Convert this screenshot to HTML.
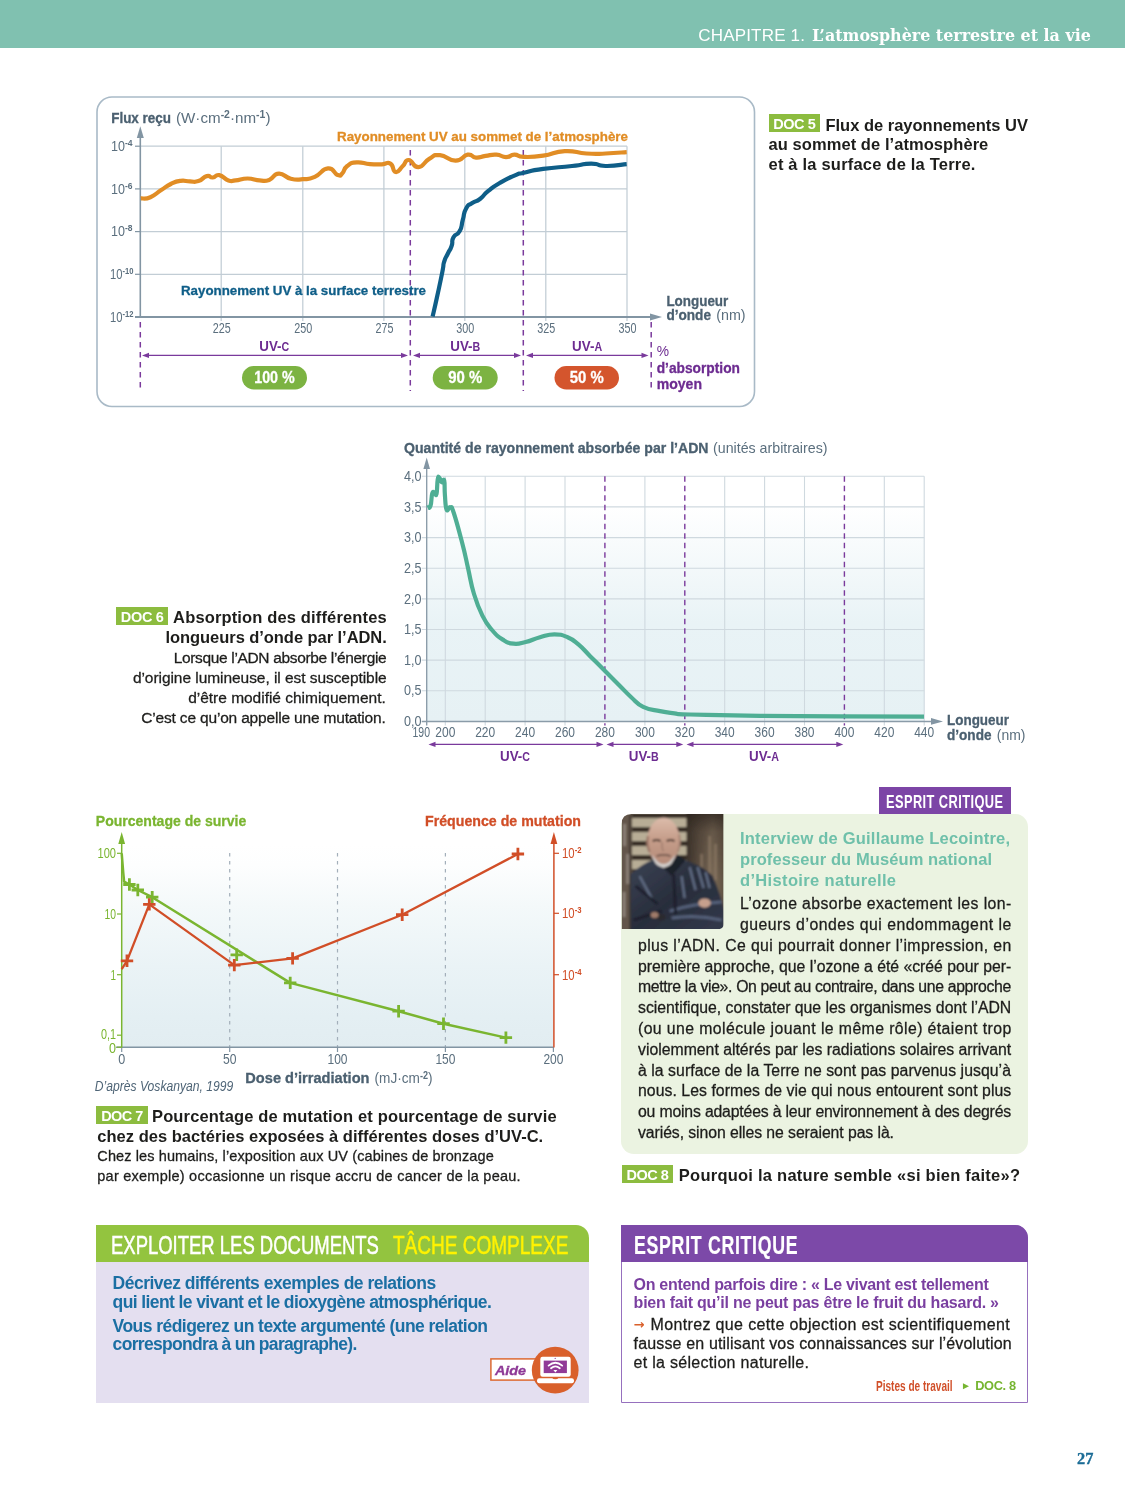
<!DOCTYPE html>
<html lang="fr"><head><meta charset="utf-8"><title>Chapitre 1 – L’atmosphère terrestre et la vie</title>
<style>
html,body{margin:0;padding:0;background:#fff}
#page{position:relative;width:1125px;height:1500px;overflow:hidden;background:#fff;font-family:"Liberation Sans",sans-serif}
.t{position:absolute;white-space:nowrap;margin:0;padding:0}
.badge{position:absolute;background:#8cbc3f}
#gfx{position:absolute;left:0;top:0}
#gfx text{font-family:"Liberation Sans",sans-serif}
.box{position:absolute}
</style></head><body><div id="page">
<div class="box" style="left:0;top:0;width:1125px;height:47.8px;background:#80c1b0"></div>
<div class="t" style="left:698.2px;top:26.6px;font-size:17px;line-height:17px;color:#fff;letter-spacing:0.194px;">CHAPITRE 1.</div>
<div class="t" style="left:811.6px;top:27.2px;font-size:17px;line-height:17px;color:#fff;font-weight:bold;font-family:'DejaVu Serif', serif;transform-origin:0 0;transform:scaleX(0.9360);">L’atmosphère terrestre et la vie</div>
<div class="box" style="left:620.8px;top:814px;width:407.2px;height:340px;background:#ebf3e1;border-radius:13px"></div>
<div class="box" style="left:878.8px;top:787.2px;width:132.4px;height:26.8px;background:#7c45a6"></div>
<div class="box" style="left:96.2px;top:1224.6px;width:492.6px;height:37.9px;background:#93c43f;border-top-right-radius:13px"></div>
<div class="box" style="left:96.2px;top:1262.4px;width:492.6px;height:140.8px;background:#e4dff0"></div>
<div class="box" style="left:621.4px;top:1224.6px;width:407px;height:178.8px;box-sizing:border-box;border:1.7px solid #9670be;border-top-right-radius:13px;background:#fff"></div>
<div class="box" style="left:621.4px;top:1224.6px;width:407px;height:37.9px;background:#7c49a8;border-top-right-radius:13px"></div>
<svg id="gfx" width="1125" height="1500" viewBox="0 0 1125 1500">
<rect x="97" y="97" width="657.5" height="309.5" rx="15" ry="15" fill="#fff" stroke="#a9bac7" stroke-width="1.6"/>
<line x1="140" y1="146.2" x2="627" y2="146.2" stroke="#c2cdd5" stroke-width="1.25"/>
<line x1="140" y1="188.9" x2="627" y2="188.9" stroke="#c2cdd5" stroke-width="1.25"/>
<line x1="140" y1="231.6" x2="627" y2="231.6" stroke="#c2cdd5" stroke-width="1.25"/>
<line x1="140" y1="274.3" x2="627" y2="274.3" stroke="#c2cdd5" stroke-width="1.25"/>
<line x1="221.2" y1="146.2" x2="221.2" y2="321" stroke="#c2cdd5" stroke-width="1.25"/>
<line x1="302.8" y1="146.2" x2="302.8" y2="321" stroke="#c2cdd5" stroke-width="1.25"/>
<line x1="383.9" y1="146.2" x2="383.9" y2="321" stroke="#c2cdd5" stroke-width="1.25"/>
<line x1="464.8" y1="146.2" x2="464.8" y2="321" stroke="#c2cdd5" stroke-width="1.25"/>
<line x1="545.8" y1="146.2" x2="545.8" y2="321" stroke="#c2cdd5" stroke-width="1.25"/>
<line x1="627.0" y1="146.2" x2="627.0" y2="321" stroke="#c2cdd5" stroke-width="1.25"/>
<line x1="140.3" y1="136" x2="140.3" y2="317" stroke="#8295a3" stroke-width="1.6"/>
<polygon points="140.3,126.3 136.8,138 143.8,138" fill="#8295a3"/>
<line x1="135" y1="317" x2="652" y2="317" stroke="#8295a3" stroke-width="1.8"/>
<polygon points="662,317 650,313.4 650,320.6" fill="#8295a3"/>
<line x1="135" y1="146.2" x2="140" y2="146.2" stroke="#8295a3" stroke-width="1.2"/>
<line x1="135" y1="188.9" x2="140" y2="188.9" stroke="#8295a3" stroke-width="1.2"/>
<line x1="135" y1="231.6" x2="140" y2="231.6" stroke="#8295a3" stroke-width="1.2"/>
<line x1="135" y1="274.3" x2="140" y2="274.3" stroke="#8295a3" stroke-width="1.2"/>
<line x1="140.3" y1="322" x2="140.3" y2="391" stroke="#7a3a9c" stroke-width="1.5" stroke-dasharray="5.5,4.5"/>
<line x1="410.3" y1="150" x2="410.3" y2="391" stroke="#7a3a9c" stroke-width="1.5" stroke-dasharray="5.5,4.5"/>
<line x1="523.3" y1="150" x2="523.3" y2="391" stroke="#7a3a9c" stroke-width="1.5" stroke-dasharray="5.5,4.5"/>
<line x1="651.2" y1="322" x2="651.2" y2="391" stroke="#7a3a9c" stroke-width="1.5" stroke-dasharray="5.5,4.5"/>
<path d="M140.8,198.4C143.5,198.1 144.6,199.6 150.4,197.2C156.2,194.8 155.4,193.7 161.2,190.0C167.0,186.3 165.4,186.6 170.8,184.0C176.2,181.4 175.0,181.6 180.4,180.9C185.8,180.2 184.9,181.3 190.0,181.4C195.1,181.5 193.6,182.6 198.4,181.1C203.2,179.6 202.7,177.1 206.8,176.1C210.9,175.1 209.3,177.8 212.8,177.5C216.3,177.2 214.9,174.3 219.3,175.1C223.7,175.9 223.8,178.9 228.4,180.4C233.0,181.9 230.2,180.9 235.6,180.4C241.0,179.9 240.8,178.5 247.6,178.5C254.4,178.5 253.5,180.0 259.6,180.4C265.7,180.8 263.8,181.8 269.2,179.9C274.6,178.0 272.7,174.0 278.8,173.7C284.9,173.4 284.0,177.1 290.8,178.7C297.6,180.3 296.0,179.7 302.8,179.2C309.6,178.7 307.7,179.9 314.8,176.8C321.9,173.7 321.5,168.9 328.0,168.4C334.5,167.9 333.5,173.5 337.6,174.9C341.7,176.3 339.7,175.7 342.4,173.2C345.1,170.7 343.1,169.1 347.2,166.0C351.3,162.9 350.3,162.9 356.8,162.4C363.3,161.9 362.9,163.6 370.0,164.1C377.1,164.6 376.2,164.4 382.0,164.3C387.8,164.2 386.5,161.4 390.4,163.6C394.3,165.8 392.1,171.3 395.6,172.0C399.1,172.7 399.1,169.4 402.8,166.0C406.5,162.6 404.4,159.7 408.8,160.0C413.2,160.3 412.6,167.5 418.4,167.2C424.2,166.9 423.1,162.2 429.2,158.8C435.3,155.4 432.5,154.7 440.0,155.2C447.5,155.7 447.8,160.8 455.6,160.7C463.4,160.6 461.8,155.6 467.6,154.7C473.4,153.8 470.9,157.3 476.0,157.6C481.1,157.9 479.8,156.7 485.6,155.9C491.4,155.1 490.6,154.4 496.4,154.7C502.2,155.0 500.9,157.1 506.0,157.1C511.1,157.1 509.3,154.8 514.4,154.7C519.5,154.6 515.8,156.6 524.0,156.9C532.2,157.2 531.6,157.3 543.2,155.7C554.8,154.1 552.6,151.7 564.8,151.1C577.0,150.5 574.8,152.8 586.4,153.5C598.0,154.2 594.2,153.9 605.6,153.5C617.0,153.1 620.7,152.5 626.7,152.1" fill="none" stroke="#e18d25" stroke-width="4.2" stroke-linejoin="round"/>
<path d="M432.6,316.5C434.2,309.6 434.1,310.6 437.3,295.8C440.5,281.0 440.0,283.5 442.3,272.1C444.6,260.7 442.3,267.8 444.2,261.6C446.1,255.4 445.4,258.7 447.9,253.5C450.4,248.3 449.7,251.4 451.6,246.0C453.5,240.6 450.8,242.3 453.5,237.3C456.2,232.3 456.6,236.9 459.7,231.1C462.8,225.3 460.7,227.4 462.8,219.9C464.9,212.4 462.9,214.3 466.0,208.7C469.1,203.1 467.4,206.4 472.2,203.1C477.0,199.8 475.0,202.7 480.3,198.7C485.6,194.7 481.4,196.5 488.0,191.2C494.6,185.9 491.2,188.0 500.0,182.8C508.8,177.6 506.4,179.0 514.4,175.6C522.4,172.2 514.4,174.9 524.0,172.7C533.6,170.5 527.2,171.1 543.2,168.9C559.2,166.7 556.0,167.8 572.0,166.0C588.0,164.2 580.0,163.6 591.2,163.6C602.4,163.6 593.8,165.8 605.6,166.0C617.4,166.2 619.7,164.7 626.7,164.1" fill="none" stroke="#0f5e88" stroke-width="4.2" stroke-linejoin="round"/>
<text x="111.2" y="122.6" font-size="14.5" fill="#4b6070" font-weight="bold" stroke="#4b6070" stroke-width="0.3" textLength="59.8" lengthAdjust="spacingAndGlyphs">Flux reçu</text>
<text x="176" y="122.6" font-size="14.5" fill="#5b6f7e" textLength="94.5" lengthAdjust="spacingAndGlyphs">(W·cm<tspan dy="-4.5" font-size="10" font-weight="bold">-2</tspan><tspan dy="4.5">·nm</tspan><tspan dy="-4.5" font-size="10" font-weight="bold">-1</tspan><tspan dy="4.5">)</tspan></text>
<text x="111" y="151.0" font-size="14" fill="#5b6f7e" textLength="21.5" lengthAdjust="spacingAndGlyphs">10<tspan dy="-5" font-size="9.5" font-weight="bold">-4</tspan></text>
<text x="111" y="193.7" font-size="14" fill="#5b6f7e" textLength="21.5" lengthAdjust="spacingAndGlyphs">10<tspan dy="-5" font-size="9.5" font-weight="bold">-6</tspan></text>
<text x="111" y="236.4" font-size="14" fill="#5b6f7e" textLength="21.5" lengthAdjust="spacingAndGlyphs">10<tspan dy="-5" font-size="9.5" font-weight="bold">-8</tspan></text>
<text x="110" y="279.1" font-size="14" fill="#5b6f7e" textLength="23.5" lengthAdjust="spacingAndGlyphs">10<tspan dy="-5" font-size="9.5" font-weight="bold">-10</tspan></text>
<text x="110" y="321.8" font-size="14" fill="#5b6f7e" textLength="23.5" lengthAdjust="spacingAndGlyphs">10<tspan dy="-5" font-size="9.5" font-weight="bold">-12</tspan></text>
<text x="212.7" y="333.3" font-size="13.8" fill="#5b6f7e" textLength="18.0" lengthAdjust="spacingAndGlyphs">225</text>
<text x="294.3" y="333.3" font-size="13.8" fill="#5b6f7e" textLength="18.0" lengthAdjust="spacingAndGlyphs">250</text>
<text x="375.4" y="333.3" font-size="13.8" fill="#5b6f7e" textLength="18.0" lengthAdjust="spacingAndGlyphs">275</text>
<text x="456.3" y="333.3" font-size="13.8" fill="#5b6f7e" textLength="18.0" lengthAdjust="spacingAndGlyphs">300</text>
<text x="537.3" y="333.3" font-size="13.8" fill="#5b6f7e" textLength="18.0" lengthAdjust="spacingAndGlyphs">325</text>
<text x="618.5" y="333.3" font-size="13.8" fill="#5b6f7e" textLength="18.0" lengthAdjust="spacingAndGlyphs">350</text>
<text x="337.0" y="141.2" font-size="13" fill="#e18d25" font-weight="bold" stroke="#e18d25" stroke-width="0.3" textLength="291.0" lengthAdjust="spacingAndGlyphs">Rayonnement UV au sommet de l’atmosphère</text>
<text x="181.0" y="295.0" font-size="13" fill="#0f5e88" font-weight="bold" stroke="#0f5e88" stroke-width="0.3" textLength="245.0" lengthAdjust="spacingAndGlyphs">Rayonnement UV à la surface terrestre</text>
<text x="259.3" y="350.8" font-size="15" font-weight="bold" fill="#6d2c91" textLength="30" lengthAdjust="spacingAndGlyphs">UV-<tspan font-size="12">C</tspan></text>
<text x="450.3" y="350.8" font-size="15" font-weight="bold" fill="#6d2c91" textLength="30" lengthAdjust="spacingAndGlyphs">UV-<tspan font-size="12">B</tspan></text>
<text x="572.1" y="350.8" font-size="15" font-weight="bold" fill="#6d2c91" textLength="30" lengthAdjust="spacingAndGlyphs">UV-<tspan font-size="12">A</tspan></text>
<line x1="148.0" y1="355.4" x2="402.0" y2="355.4" stroke="#7a3a9c" stroke-width="1.1"/><polygon points="408.0,355.4 401.0,352.8 401.0,358.0" fill="#7a3a9c"/><polygon points="142.0,355.4 149.0,352.8 149.0,358.0" fill="#7a3a9c"/>
<line x1="419.0" y1="355.4" x2="515.0" y2="355.4" stroke="#7a3a9c" stroke-width="1.1"/><polygon points="521.0,355.4 514.0,352.8 514.0,358.0" fill="#7a3a9c"/><polygon points="413.0,355.4 420.0,352.8 420.0,358.0" fill="#7a3a9c"/>
<line x1="532.0" y1="355.4" x2="642.5" y2="355.4" stroke="#7a3a9c" stroke-width="1.1"/><polygon points="648.5,355.4 641.5,352.8 641.5,358.0" fill="#7a3a9c"/><polygon points="526.0,355.4 533.0,352.8 533.0,358.0" fill="#7a3a9c"/>
<rect x="242" y="366" width="65" height="23.5" rx="11.75" fill="#7cb342"/>
<text x="254.2" y="383.4" font-size="16" fill="#fff" font-weight="bold" stroke="#fff" stroke-width="0.3" textLength="40.5" lengthAdjust="spacingAndGlyphs">100 %</text>
<rect x="432.7" y="366" width="65.0" height="23.5" rx="11.75" fill="#7cb342"/>
<text x="448.2" y="383.4" font-size="16" fill="#fff" font-weight="bold" stroke="#fff" stroke-width="0.3" textLength="34.0" lengthAdjust="spacingAndGlyphs">90 %</text>
<rect x="554.5" y="366" width="64.5" height="23.5" rx="11.75" fill="#d4552d"/>
<text x="569.8" y="383.4" font-size="16" fill="#fff" font-weight="bold" stroke="#fff" stroke-width="0.3" textLength="34.0" lengthAdjust="spacingAndGlyphs">50 %</text>
<text x="666.4" y="305.7" font-size="14.5" fill="#4b6070" font-weight="bold" stroke="#4b6070" stroke-width="0.3" textLength="61.9" lengthAdjust="spacingAndGlyphs">Longueur</text>
<text x="666.4" y="320.4" font-size="14.5" fill="#4b6070" font-weight="bold" stroke="#4b6070" stroke-width="0.3" textLength="44.6" lengthAdjust="spacingAndGlyphs">d’onde</text>
<text x="716.2" y="320.4" font-size="14.5" fill="#5b6f7e" textLength="29.4" lengthAdjust="spacingAndGlyphs">(nm)</text>
<text x="656.7" y="356.2" font-size="14" fill="#6d2c91" textLength="12.3" lengthAdjust="spacingAndGlyphs">%</text>
<text x="656.7" y="372.7" font-size="14.5" fill="#6d2c91" font-weight="bold" stroke="#6d2c91" stroke-width="0.3" textLength="83.3" lengthAdjust="spacingAndGlyphs">d’absorption</text>
<text x="656.7" y="388.8" font-size="14.5" fill="#6d2c91" font-weight="bold" stroke="#6d2c91" stroke-width="0.3" textLength="45.3" lengthAdjust="spacingAndGlyphs">moyen</text>
<defs><linearGradient id="g2" x1="0" y1="0" x2="0" y2="1"><stop offset="0" stop-color="#fff"/><stop offset="0.12" stop-color="#fff"/><stop offset="0.6" stop-color="#e9f3f6"/><stop offset="1" stop-color="#e6f1f4"/></linearGradient></defs>
<rect x="426.7" y="476.3" width="497.5" height="245.1" fill="url(#g2)"/>
<line x1="421.7" y1="476.3" x2="924.2" y2="476.3" stroke="#cfd9df" stroke-width="1.1"/>
<line x1="421.7" y1="506.9" x2="924.2" y2="506.9" stroke="#cfd9df" stroke-width="1.1"/>
<line x1="421.7" y1="537.6" x2="924.2" y2="537.6" stroke="#cfd9df" stroke-width="1.1"/>
<line x1="421.7" y1="568.2" x2="924.2" y2="568.2" stroke="#cfd9df" stroke-width="1.1"/>
<line x1="421.7" y1="598.9" x2="924.2" y2="598.9" stroke="#cfd9df" stroke-width="1.1"/>
<line x1="421.7" y1="629.5" x2="924.2" y2="629.5" stroke="#cfd9df" stroke-width="1.1"/>
<line x1="421.7" y1="660.1" x2="924.2" y2="660.1" stroke="#cfd9df" stroke-width="1.1"/>
<line x1="421.7" y1="690.8" x2="924.2" y2="690.8" stroke="#cfd9df" stroke-width="1.1"/>
<line x1="445.3" y1="476.3" x2="445.3" y2="725.4" stroke="#cfd9df" stroke-width="1.1"/>
<line x1="485.2" y1="476.3" x2="485.2" y2="725.4" stroke="#cfd9df" stroke-width="1.1"/>
<line x1="525.1" y1="476.3" x2="525.1" y2="725.4" stroke="#cfd9df" stroke-width="1.1"/>
<line x1="565.0" y1="476.3" x2="565.0" y2="725.4" stroke="#cfd9df" stroke-width="1.1"/>
<line x1="644.9" y1="476.3" x2="644.9" y2="725.4" stroke="#cfd9df" stroke-width="1.1"/>
<line x1="724.7" y1="476.3" x2="724.7" y2="725.4" stroke="#cfd9df" stroke-width="1.1"/>
<line x1="764.6" y1="476.3" x2="764.6" y2="725.4" stroke="#cfd9df" stroke-width="1.1"/>
<line x1="804.5" y1="476.3" x2="804.5" y2="725.4" stroke="#cfd9df" stroke-width="1.1"/>
<line x1="884.3" y1="476.3" x2="884.3" y2="725.4" stroke="#cfd9df" stroke-width="1.1"/>
<line x1="924.2" y1="476.3" x2="924.2" y2="725.4" stroke="#cfd9df" stroke-width="1.1"/>
<line x1="604.9" y1="476.3" x2="604.9" y2="725.4" stroke="#7a3a9c" stroke-width="1.4" stroke-dasharray="5.5,4"/>
<line x1="684.8" y1="476.3" x2="684.8" y2="725.4" stroke="#7a3a9c" stroke-width="1.4" stroke-dasharray="5.5,4"/>
<line x1="844.4" y1="476.3" x2="844.4" y2="725.4" stroke="#7a3a9c" stroke-width="1.4" stroke-dasharray="5.5,4"/>
<line x1="426.7" y1="468" x2="426.7" y2="725.4" stroke="#8a9ba8" stroke-width="1.35"/>
<polygon points="426.7,457.6 423.4,469 430.0,469" fill="#8295a3"/>
<line x1="421.7" y1="721.4" x2="933" y2="721.4" stroke="#8a9ba8" stroke-width="1.45"/>
<polygon points="943,721.4 931,718.0 931,724.8" fill="#8295a3"/>
<path d="M427.4,507.5C428.2,507.1 429.3,509.3 430.5,505.8C431.7,502.3 431.2,496.9 432.2,493.6C433.2,490.4 433.5,492.7 434.6,492.8C435.7,492.9 435.7,497.3 436.5,494.0C437.3,490.7 437.0,483.6 437.7,479.5C438.4,475.4 438.4,476.9 439.4,477.6C440.4,478.3 440.6,481.6 441.8,482.3C443.0,483.1 443.4,477.4 444.2,480.6C445.0,483.8 444.3,487.8 444.9,495.0C445.5,502.2 445.3,506.6 446.6,509.6C447.9,512.6 448.4,506.4 450.2,507.2C452.0,508.0 450.8,504.1 453.8,513.0C456.8,522.0 458.6,529.2 462.2,543.0C465.8,556.8 465.1,555.2 468.0,568.0C470.9,580.8 470.4,582.1 474.0,594.0C477.6,605.9 477.9,606.6 482.4,615.6C486.9,624.6 486.9,624.0 492.0,630.0C497.1,636.0 497.4,636.2 502.8,639.6C508.2,643.0 507.9,643.1 513.6,643.7C519.3,644.3 519.0,643.6 525.6,642.0C532.2,640.4 532.8,639.1 540.0,637.2C547.2,635.3 547.5,634.3 554.4,634.3C561.3,634.3 561.6,634.7 567.6,637.2C573.6,639.7 572.7,639.6 578.4,644.4C584.1,649.2 583.8,649.8 590.4,656.4C597.0,663.0 597.6,663.6 604.8,670.8C612.0,678.0 612.6,678.6 619.2,685.2C625.8,691.8 625.2,691.8 631.2,697.2C637.2,702.6 636.0,703.3 643.2,706.8C650.4,710.3 652.2,709.5 660.0,711.1C667.8,712.7 666.9,712.4 674.4,713.3C681.9,714.1 668.6,713.9 690.0,714.5C711.4,715.1 722.5,715.3 760.0,715.8C797.5,716.2 799.0,716.1 840.0,716.3C881.0,716.5 903.0,716.5 924.0,716.6" fill="none" stroke="#4fae94" stroke-width="4.2" stroke-linejoin="round"/>
<text x="404.0" y="453.4" font-size="14.2" fill="#4b6070" font-weight="bold" stroke="#4b6070" stroke-width="0.3" textLength="304.5" lengthAdjust="spacingAndGlyphs">Quantité de rayonnement absorbée par l’ADN</text>
<text x="713.0" y="453.4" font-size="14.2" fill="#5b6f7e" textLength="114.5" lengthAdjust="spacingAndGlyphs">(unités arbitraires)</text>
<text x="404.0" y="480.9" font-size="14" fill="#5b6f7e" textLength="17.5" lengthAdjust="spacingAndGlyphs">4,0</text>
<text x="404.0" y="511.5" font-size="14" fill="#5b6f7e" textLength="17.5" lengthAdjust="spacingAndGlyphs">3,5</text>
<text x="404.0" y="542.2" font-size="14" fill="#5b6f7e" textLength="17.5" lengthAdjust="spacingAndGlyphs">3,0</text>
<text x="404.0" y="572.8" font-size="14" fill="#5b6f7e" textLength="17.5" lengthAdjust="spacingAndGlyphs">2,5</text>
<text x="404.0" y="603.5" font-size="14" fill="#5b6f7e" textLength="17.5" lengthAdjust="spacingAndGlyphs">2,0</text>
<text x="404.0" y="634.1" font-size="14" fill="#5b6f7e" textLength="17.5" lengthAdjust="spacingAndGlyphs">1,5</text>
<text x="404.0" y="664.7" font-size="14" fill="#5b6f7e" textLength="17.5" lengthAdjust="spacingAndGlyphs">1,0</text>
<text x="404.0" y="695.4" font-size="14" fill="#5b6f7e" textLength="17.5" lengthAdjust="spacingAndGlyphs">0,5</text>
<text x="404.0" y="726.0" font-size="14" fill="#5b6f7e" textLength="17.5" lengthAdjust="spacingAndGlyphs">0,0</text>
<text x="435.3" y="736.8" font-size="14" fill="#5b6f7e" textLength="20.0" lengthAdjust="spacingAndGlyphs">200</text>
<text x="475.2" y="736.8" font-size="14" fill="#5b6f7e" textLength="20.0" lengthAdjust="spacingAndGlyphs">220</text>
<text x="515.1" y="736.8" font-size="14" fill="#5b6f7e" textLength="20.0" lengthAdjust="spacingAndGlyphs">240</text>
<text x="555.0" y="736.8" font-size="14" fill="#5b6f7e" textLength="20.0" lengthAdjust="spacingAndGlyphs">260</text>
<text x="594.9" y="736.8" font-size="14" fill="#5b6f7e" textLength="20.0" lengthAdjust="spacingAndGlyphs">280</text>
<text x="634.9" y="736.8" font-size="14" fill="#5b6f7e" textLength="20.0" lengthAdjust="spacingAndGlyphs">300</text>
<text x="674.8" y="736.8" font-size="14" fill="#5b6f7e" textLength="20.0" lengthAdjust="spacingAndGlyphs">320</text>
<text x="714.7" y="736.8" font-size="14" fill="#5b6f7e" textLength="20.0" lengthAdjust="spacingAndGlyphs">340</text>
<text x="754.6" y="736.8" font-size="14" fill="#5b6f7e" textLength="20.0" lengthAdjust="spacingAndGlyphs">360</text>
<text x="794.5" y="736.8" font-size="14" fill="#5b6f7e" textLength="20.0" lengthAdjust="spacingAndGlyphs">380</text>
<text x="834.4" y="736.8" font-size="14" fill="#5b6f7e" textLength="20.0" lengthAdjust="spacingAndGlyphs">400</text>
<text x="874.3" y="736.8" font-size="14" fill="#5b6f7e" textLength="20.0" lengthAdjust="spacingAndGlyphs">420</text>
<text x="914.2" y="736.8" font-size="14" fill="#5b6f7e" textLength="20.0" lengthAdjust="spacingAndGlyphs">440</text>
<text x="412.5" y="736.8" font-size="14" fill="#5b6f7e" textLength="17.5" lengthAdjust="spacingAndGlyphs">190</text>
<text x="500" y="760.6" font-size="15" font-weight="bold" fill="#6d2c91" textLength="30" lengthAdjust="spacingAndGlyphs">UV-<tspan font-size="12">C</tspan></text>
<text x="628.8" y="760.6" font-size="15" font-weight="bold" fill="#6d2c91" textLength="30" lengthAdjust="spacingAndGlyphs">UV-<tspan font-size="12">B</tspan></text>
<text x="749" y="760.6" font-size="15" font-weight="bold" fill="#6d2c91" textLength="30" lengthAdjust="spacingAndGlyphs">UV-<tspan font-size="12">A</tspan></text>
<line x1="434.5" y1="744.4" x2="597.5" y2="744.4" stroke="#7a3a9c" stroke-width="1.1"/><polygon points="603.5,744.4 596.5,741.8 596.5,747.0" fill="#7a3a9c"/><polygon points="428.5,744.4 435.5,741.8 435.5,747.0" fill="#7a3a9c"/>
<line x1="612.5" y1="744.4" x2="677.3" y2="744.4" stroke="#7a3a9c" stroke-width="1.1"/><polygon points="683.3,744.4 676.3,741.8 676.3,747.0" fill="#7a3a9c"/><polygon points="606.5,744.4 613.5,741.8 613.5,747.0" fill="#7a3a9c"/>
<line x1="692.5" y1="744.4" x2="837.3" y2="744.4" stroke="#7a3a9c" stroke-width="1.1"/><polygon points="843.3,744.4 836.3,741.8 836.3,747.0" fill="#7a3a9c"/><polygon points="686.5,744.4 693.5,741.8 693.5,747.0" fill="#7a3a9c"/>
<text x="947.0" y="725.1" font-size="14.5" fill="#4b6070" font-weight="bold" stroke="#4b6070" stroke-width="0.3" textLength="62.0" lengthAdjust="spacingAndGlyphs">Longueur</text>
<text x="947.0" y="740.0" font-size="14.5" fill="#4b6070" font-weight="bold" stroke="#4b6070" stroke-width="0.3" textLength="44.5" lengthAdjust="spacingAndGlyphs">d’onde</text>
<text x="996.8" y="740.0" font-size="14.5" fill="#5b6f7e" textLength="28.7" lengthAdjust="spacingAndGlyphs">(nm)</text>
<defs><linearGradient id="g3" x1="0" y1="0" x2="0" y2="1"><stop offset="0" stop-color="#fff"/><stop offset="0.1" stop-color="#fdfefe"/><stop offset="0.3" stop-color="#f4f9fa"/><stop offset="0.6" stop-color="#eaf3f6"/><stop offset="0.85" stop-color="#e4eff3"/><stop offset="1" stop-color="#e2edf1"/></linearGradient></defs>
<rect x="121.7" y="845" width="431.7" height="202.2" fill="url(#g3)"/>
<line x1="229.7" y1="853" x2="229.7" y2="1047" stroke="#a3afba" stroke-width="1.2" stroke-dasharray="3.5,4.5"/>
<line x1="337.5" y1="853" x2="337.5" y2="1047" stroke="#a3afba" stroke-width="1.2" stroke-dasharray="3.5,4.5"/>
<line x1="445.4" y1="853" x2="445.4" y2="1047" stroke="#a3afba" stroke-width="1.2" stroke-dasharray="3.5,4.5"/>
<line x1="116" y1="1047.2" x2="553.4" y2="1047.2" stroke="#8295a3" stroke-width="1.6"/>
<line x1="121.7" y1="1047" x2="121.7" y2="1052" stroke="#8295a3" stroke-width="1.2"/>
<line x1="229.7" y1="1047" x2="229.7" y2="1052" stroke="#8295a3" stroke-width="1.2"/>
<line x1="337.5" y1="1047" x2="337.5" y2="1052" stroke="#8295a3" stroke-width="1.2"/>
<line x1="445.4" y1="1047" x2="445.4" y2="1052" stroke="#8295a3" stroke-width="1.2"/>
<line x1="553.4" y1="1047" x2="553.4" y2="1052" stroke="#8295a3" stroke-width="1.2"/>
<line x1="121.7" y1="842" x2="121.7" y2="1047.5" stroke="#7ab530" stroke-width="1.5"/>
<polygon points="121.7,832 118.3,844 125.1,844" fill="#7ab530"/>
<line x1="117" y1="853.3" x2="121.7" y2="853.3" stroke="#7ab530" stroke-width="1.2"/>
<line x1="117" y1="914" x2="121.7" y2="914" stroke="#7ab530" stroke-width="1.2"/>
<line x1="117" y1="974.7" x2="121.7" y2="974.7" stroke="#7ab530" stroke-width="1.2"/>
<line x1="117" y1="1035.2" x2="121.7" y2="1035.2" stroke="#7ab530" stroke-width="1.2"/>
<line x1="117" y1="1047.2" x2="121.7" y2="1047.2" stroke="#7ab530" stroke-width="1.2"/>
<line x1="553.9" y1="842" x2="553.9" y2="1047.5" stroke="#d14e27" stroke-width="1.5"/>
<polygon points="553.9,832 550.5,844 557.3,844" fill="#d14e27"/>
<line x1="553.9" y1="853.3" x2="559" y2="853.3" stroke="#d14e27" stroke-width="1.2"/>
<line x1="553.9" y1="913.3" x2="559" y2="913.3" stroke="#d14e27" stroke-width="1.2"/>
<line x1="553.9" y1="974.7" x2="559" y2="974.7" stroke="#d14e27" stroke-width="1.2"/>
<polyline points="121.7,853.3 123.2,872 124.1,881.6 129.4,884.5 137.8,890 152.2,897.2 290.2,982.9 398.6,1011.2 443.5,1023.7 505.9,1037.6" fill="none" stroke="#7ab530" stroke-width="2.5" stroke-linejoin="round"/>
<path d="M123.2,884.5H135.6M129.4,878.3V890.7" stroke="#7ab530" stroke-width="2.8" fill="none"/>
<path d="M131.6,890.0H144.0M137.8,883.8V896.2" stroke="#7ab530" stroke-width="2.8" fill="none"/>
<path d="M146.0,897.2H158.4M152.2,891.0V903.4" stroke="#7ab530" stroke-width="2.8" fill="none"/>
<path d="M230.5,954.8H242.9M236.7,948.6V961.0" stroke="#7ab530" stroke-width="2.8" fill="none"/>
<path d="M284.0,982.9H296.4M290.2,976.7V989.1" stroke="#7ab530" stroke-width="2.8" fill="none"/>
<path d="M392.4,1011.2H404.8M398.6,1005.0V1017.4" stroke="#7ab530" stroke-width="2.8" fill="none"/>
<path d="M437.3,1023.7H449.7M443.5,1017.5V1029.9" stroke="#7ab530" stroke-width="2.8" fill="none"/>
<path d="M499.7,1037.6H512.1M505.9,1031.4V1043.8" stroke="#7ab530" stroke-width="2.8" fill="none"/>
<polyline points="121.7,969.2 127,960.8 149.3,904.4 234.3,965.1 292.6,958.4 402.2,914.7 517.9,854" fill="none" stroke="#d14e27" stroke-width="2.3" stroke-linejoin="round"/>
<path d="M120.8,960.8H133.2M127.0,954.6V967.0" stroke="#d14e27" stroke-width="2.8" fill="none"/>
<path d="M143.1,904.4H155.5M149.3,898.2V910.6" stroke="#d14e27" stroke-width="2.8" fill="none"/>
<path d="M228.1,965.1H240.5M234.3,958.9V971.3" stroke="#d14e27" stroke-width="2.8" fill="none"/>
<path d="M286.4,958.4H298.8M292.6,952.2V964.6" stroke="#d14e27" stroke-width="2.8" fill="none"/>
<path d="M396.0,914.7H408.4M402.2,908.5V920.9" stroke="#d14e27" stroke-width="2.8" fill="none"/>
<path d="M511.7,854.0H524.1M517.9,847.8V860.2" stroke="#d14e27" stroke-width="2.8" fill="none"/>
<text x="95.8" y="825.5" font-size="14.5" fill="#7ab530" font-weight="bold" stroke="#7ab530" stroke-width="0.3" textLength="150.5" lengthAdjust="spacingAndGlyphs">Pourcentage de survie</text>
<text x="425.0" y="825.5" font-size="14.5" fill="#d14e27" font-weight="bold" stroke="#d14e27" stroke-width="0.3" textLength="156.0" lengthAdjust="spacingAndGlyphs">Fréquence de mutation</text>
<text x="97.5" y="858.1" font-size="14" fill="#7ab530" textLength="18.5" lengthAdjust="spacingAndGlyphs">100</text>
<text x="104.5" y="918.8" font-size="14" fill="#7ab530" textLength="11.5" lengthAdjust="spacingAndGlyphs">10</text>
<text x="110.5" y="979.5" font-size="14" fill="#7ab530" textLength="5.5" lengthAdjust="spacingAndGlyphs">1</text>
<text x="101.0" y="1038.7" font-size="14" fill="#7ab530" textLength="15.0" lengthAdjust="spacingAndGlyphs">0,1</text>
<text x="109.0" y="1052.7" font-size="14" fill="#7ab530" textLength="7.0" lengthAdjust="spacingAndGlyphs">0</text>
<text x="562" y="858.1" font-size="14" fill="#d14e27" textLength="19.5" lengthAdjust="spacingAndGlyphs">10<tspan dy="-5" font-size="9.5" font-weight="bold">-2</tspan></text>
<text x="562" y="918.1" font-size="14" fill="#d14e27" textLength="19.5" lengthAdjust="spacingAndGlyphs">10<tspan dy="-5" font-size="9.5" font-weight="bold">-3</tspan></text>
<text x="562" y="979.5" font-size="14" fill="#d14e27" textLength="19.5" lengthAdjust="spacingAndGlyphs">10<tspan dy="-5" font-size="9.5" font-weight="bold">-4</tspan></text>
<text x="118.2" y="1064.2" font-size="13.8" fill="#5b6f7e" textLength="7.0" lengthAdjust="spacingAndGlyphs">0</text>
<text x="222.9" y="1064.2" font-size="13.8" fill="#5b6f7e" textLength="13.5" lengthAdjust="spacingAndGlyphs">50</text>
<text x="327.5" y="1064.2" font-size="13.8" fill="#5b6f7e" textLength="20.0" lengthAdjust="spacingAndGlyphs">100</text>
<text x="435.4" y="1064.2" font-size="13.8" fill="#5b6f7e" textLength="20.0" lengthAdjust="spacingAndGlyphs">150</text>
<text x="543.4" y="1064.2" font-size="13.8" fill="#5b6f7e" textLength="20.0" lengthAdjust="spacingAndGlyphs">200</text>
<text x="94.8" y="1091.0" font-size="15.5" fill="#4f6577" font-style="italic" textLength="138.5" lengthAdjust="spacingAndGlyphs">D’après Voskanyan, 1999</text>
<text x="245.3" y="1083.2" font-size="15" fill="#4b6070" font-weight="bold" stroke="#4b6070" stroke-width="0.3" textLength="124.2" lengthAdjust="spacingAndGlyphs">Dose d’irradiation</text>
<text x="374.5" y="1083.2" font-size="15" fill="#5b6f7e" textLength="58" lengthAdjust="spacingAndGlyphs">(mJ·cm<tspan dy="-4.5" font-size="10" font-weight="bold">-2</tspan><tspan dy="4.5">)</tspan></text>
<defs><clipPath id="pc"><path d="M10,0H102V110Q102,115 97,115H0V10Q0,0 10,0Z"/></clipPath><filter id="bl" x="-10%" y="-10%" width="120%" height="120%"><feGaussianBlur stdDeviation="0.9"/></filter><linearGradient id="wd" x1="0" y1="0" x2="1" y2="0"><stop offset="0" stop-color="#3d332b"/><stop offset="0.3" stop-color="#5c4e41"/><stop offset="0.65" stop-color="#7a6a57"/><stop offset="1" stop-color="#5a4c3e"/></linearGradient><linearGradient id="wdt" x1="0" y1="0" x2="0" y2="1"><stop offset="0" stop-color="#2c241e" stop-opacity="0.85"/><stop offset="0.3" stop-color="#2c241e" stop-opacity="0.25"/><stop offset="1" stop-color="#2c241e" stop-opacity="0"/></linearGradient><linearGradient id="jk" x1="0" y1="0" x2="1" y2="1"><stop offset="0" stop-color="#3b4355"/><stop offset="0.5" stop-color="#282d3b"/><stop offset="1" stop-color="#333a4c"/></linearGradient><linearGradient id="sk" x1="0" y1="0" x2="0" y2="1"><stop offset="0" stop-color="#dcbcab"/><stop offset="0.45" stop-color="#c69e8b"/><stop offset="1" stop-color="#b48a78"/></linearGradient></defs>
<g transform="translate(621.6,814.1)" clip-path="url(#pc)"><g filter="url(#bl)">
<rect x="-3" y="-3" width="108" height="121" fill="#6f6457"/>
<rect x="9" y="-10" width="58" height="9" fill="#b8ad96"/>
<rect x="9" y="-1" width="58" height="5" fill="#372e27"/>
<rect x="9" y="4" width="58" height="9" fill="#b8ad96"/>
<rect x="9" y="13" width="58" height="5" fill="#372e27"/>
<rect x="9" y="18" width="58" height="9" fill="#b8ad96"/>
<rect x="9" y="27" width="58" height="5" fill="#372e27"/>
<rect x="9" y="32" width="58" height="9" fill="#b8ad96"/>
<rect x="9" y="41" width="58" height="5" fill="#372e27"/>
<rect x="9" y="46" width="58" height="9" fill="#b8ad96"/>
<rect x="9" y="55" width="58" height="5" fill="#372e27"/>
<rect x="9" y="60" width="58" height="9" fill="#b8ad96"/>
<rect x="9" y="69" width="58" height="5" fill="#372e27"/>
<rect x="-3" y="-3" width="13.5" height="121" fill="#64574c"/>
<path d="M3,10 v22 M6,40 v30 M2.5,78 v25" stroke="#8f857b" stroke-width="2.6" fill="none"/>
<path d="M8.5,0 v118" stroke="#3b322b" stroke-width="1.6" fill="none"/>
<rect x="65" y="-3" width="40" height="121" fill="url(#wd)"/>
<rect x="65" y="-3" width="40" height="70" fill="url(#wdt)"/>
<path d="M88,22 v40 M94,30 v36 M80,40 v20" stroke="#8d7b66" stroke-width="2.2" fill="none" opacity="0.8"/>
<path d="M9,60 Q20,50 33,45 L50,58 L63,46 Q82,52 91,62 Q99,80 103,98 V118 H9Z" fill="url(#jk)"/>
<path d="M68,53 L74,76 M76,53 L82,74 M84,58 L88,74 M60,62 L63,84 M18,62 L30,84" stroke="#5f6b82" stroke-width="2.4" fill="none"/>
<path d="M48,97 Q70,90 100,88 M50,104 Q75,100 100,106" stroke="#556079" stroke-width="3" fill="none"/>
<path d="M14,72 L36,90 M40,97 L12,106 M52,60 L54,100" stroke="#1b1f2b" stroke-width="2.6" fill="none"/>
<path d="M33,45 L50,62 L64,46 L52,38Z" fill="#1d212c"/>
<ellipse cx="42" cy="27" rx="16.3" ry="23.5" fill="url(#sk)"/>
<path d="M30,40 Q42,60 54,40 Q52,52 42,54 Q32,52 30,40Z" fill="#d2cecb"/>
<path d="M31,27 q4,-2 8,0 M45,27 q4,-2 8,0" stroke="#4e3a32" stroke-width="2" fill="none"/>
<path d="M40.5,28 Q40,35 42,37" stroke="#a37f6e" stroke-width="1.6" fill="none"/>
<path d="M35,42 Q42,39.5 49,42" stroke="#6f554b" stroke-width="1.8" fill="none"/>
<path d="M26.5,22 Q24.5,30 28,38" stroke="#9b7767" stroke-width="2.4" fill="none"/>
<path d="M57.5,20 Q59.5,30 56,38" stroke="#a88575" stroke-width="2" fill="none"/>
<ellipse cx="83" cy="89" rx="6.2" ry="4.6" fill="#c7a08d"/>
<ellipse cx="39" cy="103" rx="5" ry="3.4" fill="#2a2a2e"/>
<ellipse cx="33" cy="101" rx="4" ry="3" fill="#a07c6a"/>
</g></g>
<rect x="490.9" y="1358.9" width="46" height="21.2" fill="#fff" stroke="#dc6a33" stroke-width="1.5"/>
<circle cx="555.2" cy="1370.1" r="23.4" fill="#d9602b"/>
<rect x="540.3" y="1356.7" width="30.4" height="20.1" rx="2.2" fill="#fff"/>
<rect x="543.7" y="1360.6" width="23.2" height="12.5" fill="#913a97"/>
<rect x="537.1" y="1378.2" width="36.8" height="5" rx="2" fill="#fff"/>
<path d="M552.3,1378 h6 q-0.5,1.2 -3,1.2 t-3,-1.2Z" fill="#d9602b"/>
<circle cx="555.2" cy="1358.4" r="0.6" fill="#913a97"/>
<path d="M548.6,1365.6 q6.8,-5.6 13.6,0 M551,1368.2 q4.4,-3.6 8.8,0" fill="none" stroke="#fff" stroke-width="1.8" stroke-linecap="round"/>
<path d="M553.4,1370 h4 l-2,2.4Z" fill="#fff"/>
<text x="494.9" y="1374.7" font-size="13.5" fill="#8e3a97" font-weight="bold" stroke="#8e3a97" stroke-width="0.3" font-style="italic" textLength="31.2" lengthAdjust="spacingAndGlyphs">Aide</text>
</svg>
<div class="badge" style="left:768.7px;top:114.4px;width:51.2px;height:17.2px"></div><div class="t" style="left:773.3px;top:116.6px;font-size:14.5px;line-height:14.5px;color:#fff;font-weight:bold;letter-spacing:-0.479px;">DOC 5</div>
<div class="t" style="left:825.4px;top:116.6px;font-size:16.5px;line-height:16.5px;color:#1d1d1b;font-weight:bold;letter-spacing:-0.001px;">Flux de rayonnements UV</div>
<div class="t" style="left:768.5px;top:136.4px;font-size:16.5px;line-height:16.5px;color:#1d1d1b;font-weight:bold;letter-spacing:0.065px;">au sommet de l’atmosphère</div>
<div class="t" style="left:768.5px;top:156.0px;font-size:16.5px;line-height:16.5px;color:#1d1d1b;font-weight:bold;letter-spacing:0.201px;">et à la surface de la Terre.</div>
<div class="badge" style="left:116.2px;top:606.9px;width:51.7px;height:18.2px"></div><div class="t" style="left:120.8px;top:610.1px;font-size:14.5px;line-height:14.5px;color:#fff;font-weight:bold;letter-spacing:-0.304px;">DOC 6</div>
<div class="t" style="left:173.1px;top:608.6px;font-size:16.5px;line-height:16.5px;color:#1d1d1b;font-weight:bold;letter-spacing:0.146px;">Absorption des différentes</div>
<div class="t" style="left:165.5px;top:628.7px;font-size:16.5px;line-height:16.5px;color:#1d1d1b;font-weight:bold;letter-spacing:-0.056px;">longueurs d’onde par l’ADN.</div>
<div class="t" style="left:173.7px;top:649.7px;font-size:15.5px;line-height:15.5px;color:#1d1d1b;letter-spacing:-0.338px;-webkit-text-stroke:0.28px #1d1d1b;">Lorsque l’ADN absorbe l’énergie</div>
<div class="t" style="left:132.9px;top:669.8px;font-size:15.5px;line-height:15.5px;color:#1d1d1b;letter-spacing:-0.055px;-webkit-text-stroke:0.28px #1d1d1b;">d’origine lumineuse, il est susceptible</div>
<div class="t" style="left:188.2px;top:689.9px;font-size:15.5px;line-height:15.5px;color:#1d1d1b;letter-spacing:-0.020px;-webkit-text-stroke:0.28px #1d1d1b;">d’être modifié chimiquement.</div>
<div class="t" style="left:141.3px;top:710.0px;font-size:15.5px;line-height:15.5px;color:#1d1d1b;letter-spacing:-0.178px;-webkit-text-stroke:0.28px #1d1d1b;">C’est ce qu’on appelle une mutation.</div>
<div class="badge" style="left:96.4px;top:1105.7px;width:51.2px;height:17.9px"></div><div class="t" style="left:101.2px;top:1108.6px;font-size:14.5px;line-height:14.5px;color:#fff;font-weight:bold;letter-spacing:-0.554px;">DOC 7</div>
<div class="t" style="left:152.0px;top:1107.5px;font-size:16.5px;line-height:16.5px;color:#1d1d1b;font-weight:bold;letter-spacing:0.142px;">Pourcentage de mutation et pourcentage de survie</div>
<div class="t" style="left:97.3px;top:1127.8px;font-size:16.5px;line-height:16.5px;color:#1d1d1b;font-weight:bold;letter-spacing:0.021px;">chez des bactéries exposées à différentes doses d’UV-C.</div>
<div class="t" style="left:97.3px;top:1148.7px;font-size:14.5px;line-height:14.5px;color:#1d1d1b;letter-spacing:0.112px;-webkit-text-stroke:0.28px #1d1d1b;">Chez les humains, l’exposition aux UV (cabines de bronzage</div>
<div class="t" style="left:97.3px;top:1168.9px;font-size:14.5px;line-height:14.5px;color:#1d1d1b;letter-spacing:0.244px;-webkit-text-stroke:0.28px #1d1d1b;">par exemple) occasionne un risque accru de cancer de la peau.</div>
<div class="badge" style="left:621.9px;top:1165.1px;width:51.2px;height:17.8px"></div><div class="t" style="left:626.5px;top:1167.5px;font-size:14.5px;line-height:14.5px;color:#fff;font-weight:bold;letter-spacing:-0.479px;">DOC 8</div>
<div class="t" style="left:678.8px;top:1166.6px;font-size:16.5px;line-height:16.5px;color:#1d1d1b;font-weight:bold;letter-spacing:0.249px;">Pourquoi la nature semble «si bien faite»?</div>
<div class="t" style="left:886.0px;top:792.6px;font-size:18px;line-height:18px;color:#fff;font-weight:bold;letter-spacing:0.6px;transform-origin:0 0;transform:scaleX(0.7121);">ESPRIT CRITIQUE</div>
<div class="t" style="left:740.0px;top:830.3px;font-size:16.5px;line-height:16.5px;color:#6fc0aa;font-weight:bold;letter-spacing:0.214px;">Interview de Guillaume Lecointre,</div>
<div class="t" style="left:740.0px;top:851.0px;font-size:16.5px;line-height:16.5px;color:#6fc0aa;font-weight:bold;letter-spacing:0.094px;">professeur du Muséum national</div>
<div class="t" style="left:740.0px;top:871.5px;font-size:16.5px;line-height:16.5px;color:#6fc0aa;font-weight:bold;letter-spacing:0.345px;">d’Histoire naturelle</div>
<div class="t" style="left:740.0px;top:896.2px;font-size:15.8px;line-height:15.8px;color:#1d1d1b;letter-spacing:0.409px;-webkit-text-stroke:0.28px #1d1d1b;">L’ozone absorbe exactement les lon-</div>
<div class="t" style="left:740.0px;top:917.0px;font-size:15.8px;line-height:15.8px;color:#1d1d1b;letter-spacing:0.489px;-webkit-text-stroke:0.28px #1d1d1b;">gueurs d’ondes qui endommagent le</div>
<div class="t" style="left:638.0px;top:937.8px;font-size:15.8px;line-height:15.8px;color:#1d1d1b;letter-spacing:0.387px;-webkit-text-stroke:0.28px #1d1d1b;">plus l’ADN. Ce qui pourrait donner l’impression, en</div>
<div class="t" style="left:638.0px;top:958.6px;font-size:15.8px;line-height:15.8px;color:#1d1d1b;letter-spacing:-0.017px;-webkit-text-stroke:0.28px #1d1d1b;">première approche, que l’ozone a été «créé pour per-</div>
<div class="t" style="left:638.0px;top:979.4px;font-size:15.8px;line-height:15.8px;color:#1d1d1b;letter-spacing:-0.342px;-webkit-text-stroke:0.28px #1d1d1b;">mettre la vie». On peut au contraire, dans une approche</div>
<div class="t" style="left:638.0px;top:1000.2px;font-size:15.8px;line-height:15.8px;color:#1d1d1b;letter-spacing:-0.016px;-webkit-text-stroke:0.28px #1d1d1b;">scientifique, constater que les organismes dont l’ADN</div>
<div class="t" style="left:638.0px;top:1021.0px;font-size:15.8px;line-height:15.8px;color:#1d1d1b;letter-spacing:0.412px;-webkit-text-stroke:0.28px #1d1d1b;">(ou une molécule jouant le même rôle) étaient trop</div>
<div class="t" style="left:638.0px;top:1041.8px;font-size:15.8px;line-height:15.8px;color:#1d1d1b;letter-spacing:0.001px;-webkit-text-stroke:0.28px #1d1d1b;">violemment altérés par les radiations solaires arrivant</div>
<div class="t" style="left:638.0px;top:1062.6px;font-size:15.8px;line-height:15.8px;color:#1d1d1b;letter-spacing:0.051px;-webkit-text-stroke:0.28px #1d1d1b;">à la surface de la Terre ne sont pas parvenus jusqu’à</div>
<div class="t" style="left:638.0px;top:1083.4px;font-size:15.8px;line-height:15.8px;color:#1d1d1b;letter-spacing:0.051px;-webkit-text-stroke:0.28px #1d1d1b;">nous. Les formes de vie qui nous entourent sont plus</div>
<div class="t" style="left:638.0px;top:1104.2px;font-size:15.8px;line-height:15.8px;color:#1d1d1b;letter-spacing:-0.176px;-webkit-text-stroke:0.28px #1d1d1b;">ou moins adaptées à leur environnement à des degrés</div>
<div class="t" style="left:638.0px;top:1125.0px;font-size:15.8px;line-height:15.8px;color:#1d1d1b;letter-spacing:-0.080px;-webkit-text-stroke:0.28px #1d1d1b;">variés, sinon elles ne seraient pas là.</div>
<div class="t" style="left:111.3px;top:1233.4px;font-size:25.3px;line-height:25.3px;color:#fff;-webkit-text-stroke:0.5px #fff;transform-origin:0 0;transform:scaleX(0.7302);">EXPLOITER LES DOCUMENTS</div>
<div class="t" style="left:392.8px;top:1233.4px;font-size:25.3px;line-height:25.3px;color:#fff200;-webkit-text-stroke:0.5px #fff200;transform-origin:0 0;transform:scaleX(0.7517);">TÂCHE COMPLEXE</div>
<div class="t" style="left:112.6px;top:1275.4px;font-size:17.5px;line-height:17.5px;color:#1b6fa3;font-weight:bold;letter-spacing:-0.518px;">Décrivez différents exemples de relations</div>
<div class="t" style="left:112.6px;top:1293.6px;font-size:17.5px;line-height:17.5px;color:#1b6fa3;font-weight:bold;letter-spacing:-0.597px;">qui lient le vivant et le dioxygène atmosphérique.</div>
<div class="t" style="left:112.6px;top:1318.4px;font-size:17.5px;line-height:17.5px;color:#1b6fa3;font-weight:bold;letter-spacing:-0.542px;">Vous rédigerez un texte argumenté (une relation</div>
<div class="t" style="left:112.6px;top:1336.4px;font-size:17.5px;line-height:17.5px;color:#1b6fa3;font-weight:bold;letter-spacing:-0.680px;">correspondra à un paragraphe).</div>
<div class="t" style="left:634.0px;top:1232.5px;font-size:25.8px;line-height:25.8px;color:#fff;font-weight:bold;letter-spacing:1px;-webkit-text-stroke:0.2px #fff;transform-origin:0 0;transform:scaleX(0.6886);">ESPRIT CRITIQUE</div>
<div class="t" style="left:633.6px;top:1276.8px;font-size:16px;line-height:16px;color:#7a3fa0;font-weight:bold;letter-spacing:-0.301px;">On entend parfois dire : « Le vivant est tellement</div>
<div class="t" style="left:633.6px;top:1295.2px;font-size:16px;line-height:16px;color:#7a3fa0;font-weight:bold;letter-spacing:-0.235px;">bien fait qu’il ne peut pas être le fruit du hasard. »</div>
<div class="t" style="left:633.6px;top:1317.2px;font-size:13px;line-height:16px;color:#d9602b;font-weight:bold;font-family:DejaVu Sans,sans-serif">→</div>
<div class="t" style="left:650.5px;top:1317.2px;font-size:16px;line-height:16px;color:#1d1d1b;letter-spacing:0.357px;-webkit-text-stroke:0.28px #1d1d1b;">Montrez que cette objection est scientifiquement</div>
<div class="t" style="left:633.6px;top:1335.9px;font-size:16px;line-height:16px;color:#1d1d1b;letter-spacing:0.154px;-webkit-text-stroke:0.28px #1d1d1b;">fausse en utilisant vos connaissances sur l’évolution</div>
<div class="t" style="left:633.6px;top:1355.3px;font-size:16px;line-height:16px;color:#1d1d1b;letter-spacing:0.292px;-webkit-text-stroke:0.28px #1d1d1b;">et la sélection naturelle.</div>
<div class="t" style="left:875.7px;top:1377.9px;font-size:15px;line-height:15px;color:#d1502a;font-weight:bold;transform-origin:0 0;transform:scaleX(0.6706);">Pistes de travail</div>
<div class="t" style="left:961.0px;top:1381.3px;font-size:10px;line-height:10px;color:#76b531;letter-spacing:-1.297px;">►</div>
<div class="t" style="left:975.2px;top:1379.8px;font-size:12.8px;line-height:12.8px;color:#76b531;font-weight:bold;letter-spacing:-0.353px;">DOC. 8</div>
<div class="t" style="left:1076.6px;top:1450.8px;font-size:16.6px;line-height:16.6px;color:#1b6c96;font-weight:bold;font-family:'Liberation Serif', serif;-webkit-text-stroke:0.35px #1b6c96;transform-origin:0 0;transform:scaleX(0.9823);">27</div>
</div></body></html>
